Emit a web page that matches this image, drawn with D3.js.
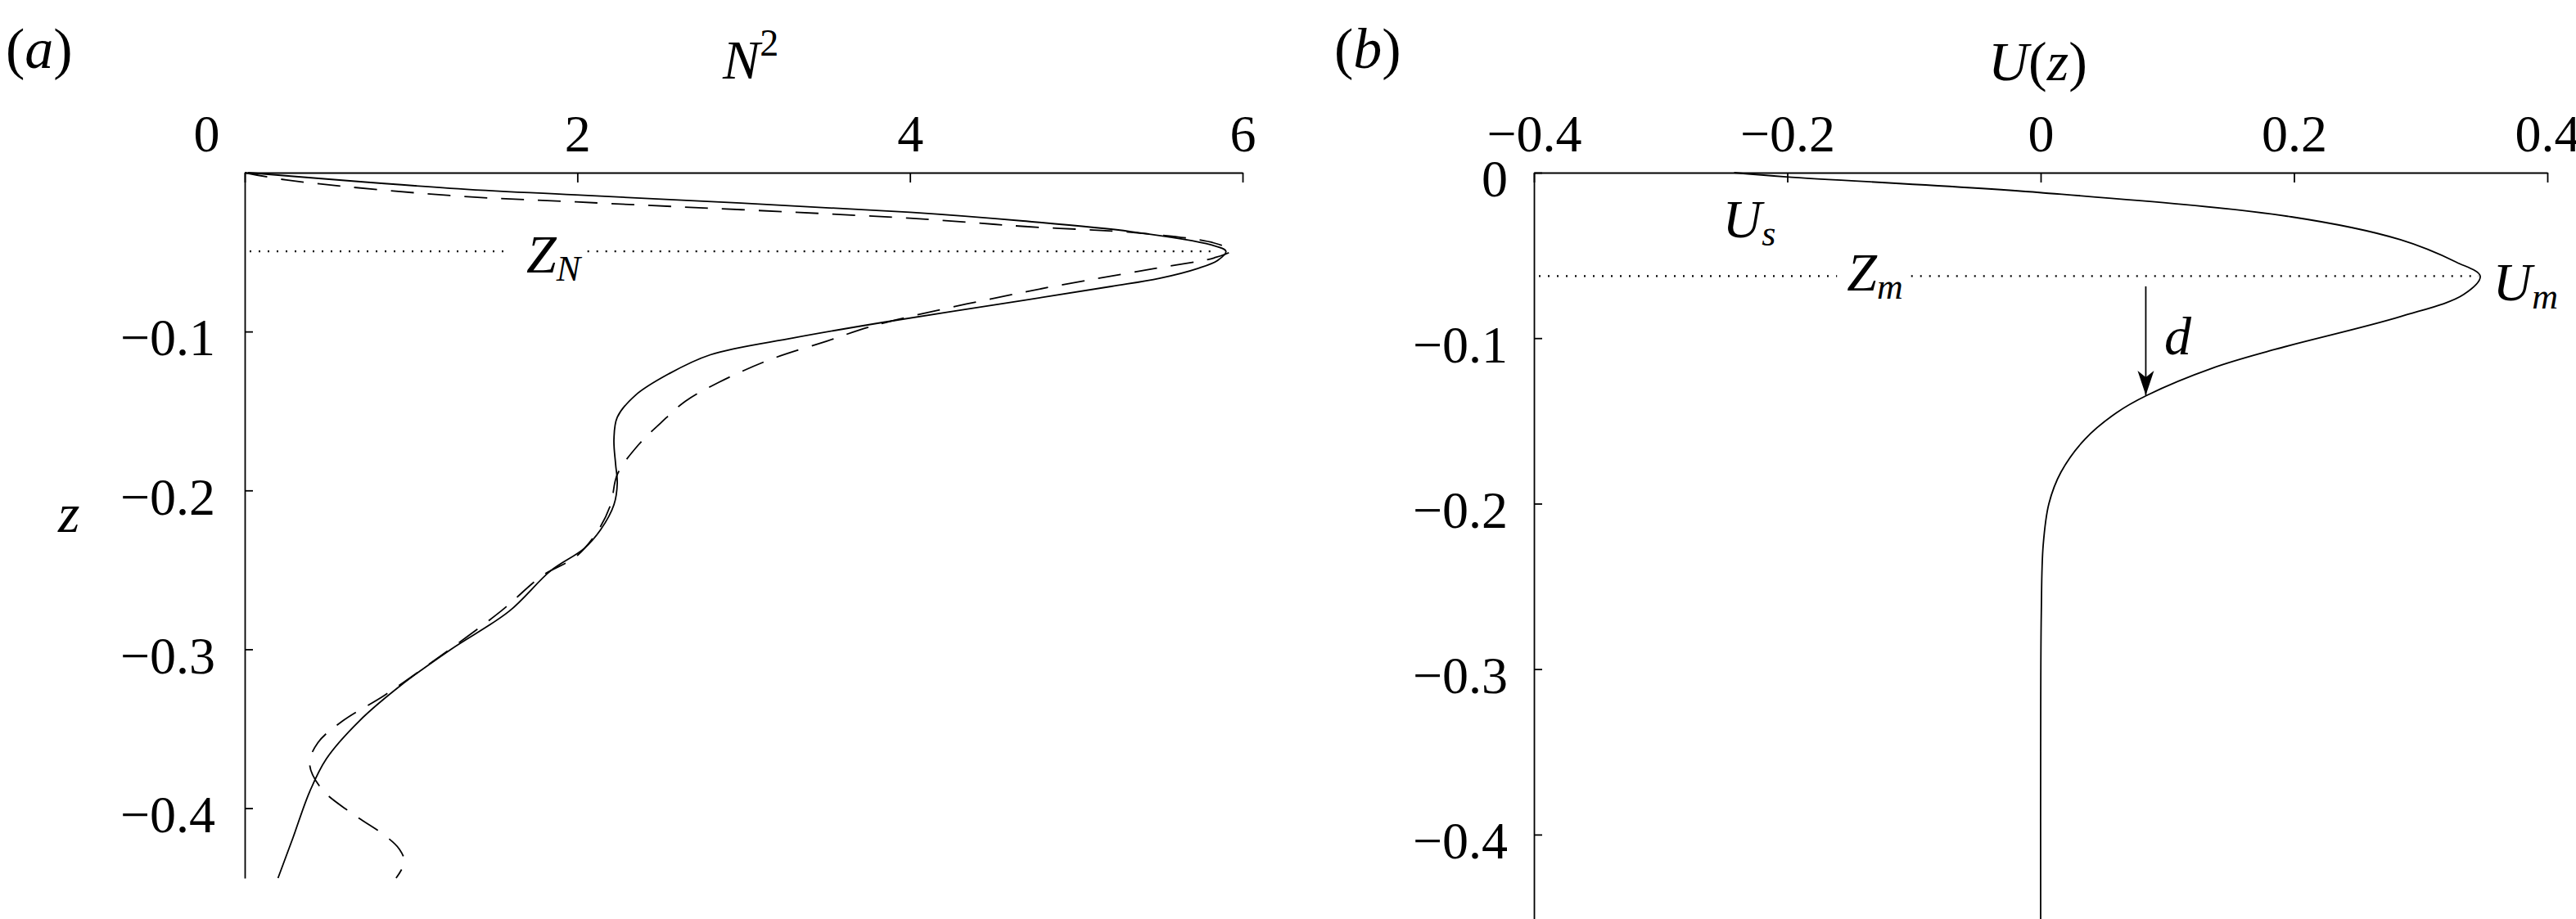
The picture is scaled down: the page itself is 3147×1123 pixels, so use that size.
<!DOCTYPE html>
<html>
<head>
<meta charset="utf-8">
<title>N2 and U(z) profiles</title>
<script src="https://d3js.org/d3.v7.min.js"></script>
<style>
body { margin: 0; background: white; }
svg { display: block; }
text { font-family: "Liberation Serif", "Times New Roman", serif; fill: black; }
.tick text { font-size: 64px; }
.domain, .tick line { stroke: black; stroke-width: 1.8; }
</style>
</head>
<body>
<svg id="chart" width="3147" height="1123"></svg>
<script>
// panel (a): N^2 profiles (solid and dashed)
var zSolid = [0, -0.0098, -0.014, -0.0249, -0.0304, -0.0371, -0.0454, -0.0495, -0.0552, -0.0603, -0.0665, -0.0716, -0.0804, -0.094,
  -0.104, -0.1146, -0.1266, -0.140, -0.154, -0.168, -0.1834, -0.1953, -0.209, -0.2247, -0.2366, -0.2505, -0.276, -0.300,
  -0.3226, -0.345, -0.369, -0.3897, -0.4186, -0.444];
var n2Solid = [0.02, 1.235, 1.99, 4.0, 4.68, 5.33, 5.81, 5.90, 5.85, 5.73, 5.50, 5.21, 4.68, 3.85,
  3.30, 2.80, 2.55, 2.35, 2.24, 2.22, 2.23, 2.24, 2.22, 2.14, 2.04, 1.84, 1.59, 1.24,
  0.94, 0.69, 0.49, 0.39, 0.29, 0.20];
var zDashed = [0, -0.0046, -0.0144, -0.0184, -0.0287, -0.034, -0.038, -0.0443, -0.049, -0.0536, -0.0603, -0.0753, -0.0958,
  -0.106, -0.118, -0.132, -0.1438, -0.1577, -0.171, -0.190, -0.209, -0.226, -0.2418, -0.2536, -0.276, -0.307,
  -0.329, -0.345, -0.3588, -0.372, -0.3876, -0.403, -0.417, -0.4258, -0.434, -0.444];
var n2Dashed = [0, 0.25, 1.235, 1.99, 4.0, 4.71, 5.38, 5.83, 5.93, 5.83, 5.47, 4.68, 3.80,
  3.50, 3.15, 2.85, 2.65, 2.50, 2.37, 2.24, 2.20, 2.12, 1.99, 1.79, 1.54, 1.14,
  0.84, 0.59, 0.44, 0.39, 0.46, 0.64, 0.84, 0.93, 0.96, 0.91];
var n2Ticks = [0, 2, 4, 6];
var zTicksA = [-0.1, -0.2, -0.3, -0.4];
var zN = -0.0495;
var n2Peak = 5.9;

// panel (b): velocity profile U(z)
var zU = [0, -0.0025, -0.012, -0.0267, -0.0405, -0.054, -0.0625, -0.0736, -0.087, -0.1068, -0.118, -0.1345, -0.145,
  -0.161, -0.181, -0.2, -0.225, -0.266, -0.35, -0.451];
var uVals = [-0.242, -0.201, -0.001, 0.198, 0.284, 0.328, 0.347, 0.334, 0.284, 0.185, 0.136, 0.084, 0.060,
  0.035, 0.016, 0.0065, 0.002, 0.0005, 0, 0];
var uTicks = [-0.4, -0.2, 0, 0.2, 0.4];
var zTicksB = [0, -0.1, -0.2, -0.3, -0.4];
var zM = -0.0625;
var uPeak = 0.347;
var arrowU = 0.083, arrowTop = -0.0687, arrowBottom = -0.1345;

var svg = d3.select("#chart");

// scales
var xA = d3.scaleLinear().domain([0, 6]).range([299, 1518]);
var yA = d3.scaleLinear().domain([0, -0.444]).range([211, 1073]);
var xB = d3.scaleLinear().domain([-0.4, 0.4]).range([1874, 3112]);
var yB = d3.scaleLinear().domain([0, -0.451]).range([211, 1123]);

var fmt1 = function(d) { return d === 0 ? "0" : d3.format(".1f")(d); };

// axes: ticks point inwards
function drawAxes(xs, ys, xt, xf, yt, yPad) {
  var gx = svg.append("g")
    .attr("transform", "translate(0," + ys.range()[0] + ")")
    .call(d3.axisTop(xs).tickValues(xt).tickFormat(xf)
      .tickSizeInner(-12).tickSizeOuter(0).tickPadding(26));
  var gy = svg.append("g")
    .attr("transform", "translate(" + xs.range()[0] + ",0)")
    .call(d3.axisLeft(ys).tickValues(yt).tickFormat(fmt1)
      .tickSizeInner(-10).tickSizeOuter(0).tickPadding(yPad));
  gy.selectAll(".tick text").attr("dy", "0.45em");
  [gx, gy].forEach(function(g) {
    g.attr("font-family", null).attr("font-size", null);
    g.selectAll(".tick text").attr("fill", "black");
  });
  return [gx, gy];
}

var axA = drawAxes(xA, yA, n2Ticks, d3.format("d"), zTicksA, 36);
// the "0" of panel (a) sits left of the corner
axA[0].selectAll(".tick").filter(function(d) { return d === 0; }).select("text").attr("dx", -47);
drawAxes(xB, yB, uTicks, fmt1, zTicksB, 32);

// curves
var lineA = d3.line().curve(d3.curveCatmullRom.alpha(0.5))
  .x(function(d) { return xA(d[0]); })
  .y(function(d) { return yA(d[1]); });

svg.append("path")
  .datum(d3.zip(n2Solid, zSolid))
  .attr("d", lineA)
  .attr("fill", "none").attr("stroke", "black").attr("stroke-width", 1.8);

svg.append("path")
  .datum(d3.zip(n2Dashed, zDashed))
  .attr("d", lineA)
  .attr("fill", "none").attr("stroke", "black").attr("stroke-width", 1.8)
  .attr("stroke-dasharray", "28,17");

var lineB = d3.line().curve(d3.curveCatmullRom.alpha(0.5))
  .x(function(d) { return xB(d[0]); })
  .y(function(d) { return yB(d[1]); });

svg.append("path")
  .datum(d3.zip(uVals, zU))
  .attr("d", lineB)
  .attr("fill", "none").attr("stroke", "black").attr("stroke-width", 1.8);

// italic label with subscript
function subLabel(x, y, main, sub) {
  var t = svg.append("text")
    .attr("x", x).attr("y", y)
    .style("font-size", "66px").style("font-style", "italic");
  t.append("tspan").text(main);
  t.append("tspan").attr("dy", 10).style("font-size", "44px").text(sub);
  return t;
}

// dotted level line broken around its label
function dottedLine(x0, x1, y, label, padL, padR) {
  var bb = label.node().getBBox();
  [[x0, bb.x - padL], [bb.x + bb.width + padR, x1]].forEach(function(s) {
    svg.append("line")
      .attr("x1", s[0]).attr("x2", s[1]).attr("y1", y).attr("y2", y)
      .attr("stroke", "black").attr("stroke-width", 2.2)
      .attr("stroke-dasharray", "2,9");
  });
}

var lblZN = subLabel(xA(1.693), yA(-0.0629), "Z", "N");
dottedLine(xA(0) + 6, xA(n2Peak) - 14, yA(zN), lblZN, 22, 6);

var lblZm = subLabel(xB(-0.153), yB(-0.0712), "Z", "m");
dottedLine(xB(-0.4) + 6, xB(uPeak) - 2, yB(zM), lblZm, 12, 10);

subLabel(xB(-0.251), yB(-0.039), "U", "s");
subLabel(xB(0.357), yB(-0.0772), "U", "m");

// arrow d
svg.append("defs").append("marker")
  .attr("id", "head")
  .attr("viewBox", "-32 -12 34 24")
  .attr("refX", 0).attr("refY", 0)
  .attr("markerWidth", 34).attr("markerHeight", 24)
  .attr("markerUnits", "userSpaceOnUse")
  .attr("orient", "auto")
  .append("path")
  .attr("d", "M0,0 L-30,-10 L-22,0 L-30,10 Z")
  .attr("fill", "black");

svg.append("line")
  .attr("x1", xB(arrowU)).attr("x2", xB(arrowU))
  .attr("y1", yB(arrowTop)).attr("y2", yB(arrowBottom))
  .attr("stroke", "black").attr("stroke-width", 1.8)
  .attr("marker-end", "url(#head)");

svg.append("text")
  .attr("x", xB(0.0976)).attr("y", yB(-0.1098))
  .style("font-size", "66px").style("font-style", "italic")
  .text("d");

// panel tags and axis titles
function tag(x, letter) {
  var t = svg.append("text").attr("x", x).attr("y", 83).style("font-size", "70px");
  t.append("tspan").text("(");
  t.append("tspan").style("font-style", "italic").text(letter);
  t.append("tspan").text(")");
}
tag(7, "a");
tag(1630, "b");

var tN = svg.append("text").attr("x", 883).attr("y", 96).style("font-size", "68px");
tN.append("tspan").style("font-style", "italic").text("N");
tN.append("tspan").attr("dy", -28).style("font-size", "46px").text("2");

var tU = svg.append("text").attr("x", 2429).attr("y", 98).style("font-size", "68px");
tU.append("tspan").style("font-style", "italic").text("U");
tU.append("tspan").text("(");
tU.append("tspan").style("font-style", "italic").text("z");
tU.append("tspan").text(")");

svg.append("text")
  .attr("x", 71).attr("y", 650)
  .style("font-size", "68px").style("font-style", "italic")
  .text("z");
</script>
</body>
</html>
